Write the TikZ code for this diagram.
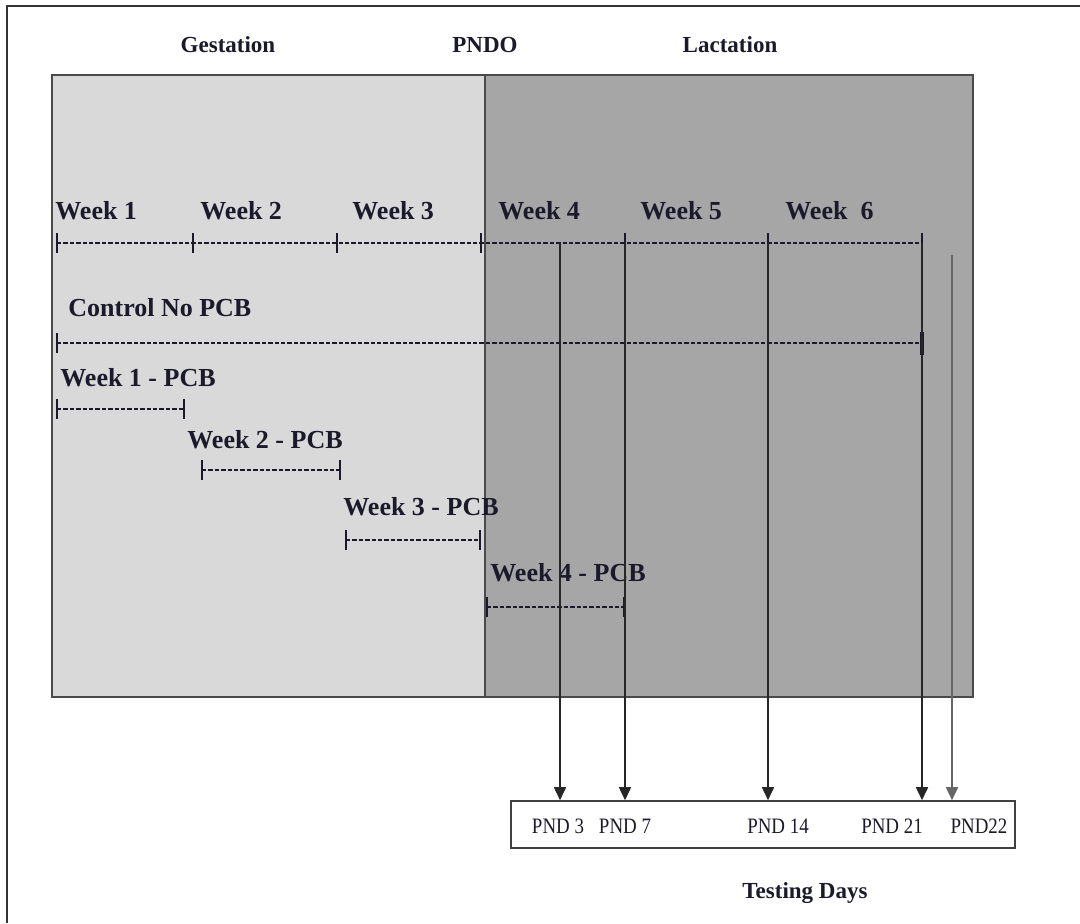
\documentclass[tikz,border=0pt]{standalone}
\usepackage{fontspec}
\setmainfont{Liberation Serif}
\newfontfamily\condserif[FakeStretch=0.86]{Liberation Serif}
\usetikzlibrary{arrows.meta}
\definecolor{lightg}{HTML}{D9D9D9}
\definecolor{darkg}{HTML}{A6A6A6}
\definecolor{edgeg}{HTML}{4A4A4A}
\definecolor{inkc}{HTML}{1A1A2A}
\begin{document}
\begin{tikzpicture}[x=0.5pt,y=-0.5pt,
  lbl/.style={font=\bfseries\fontsize{13}{15}\selectfont, anchor=west, inner sep=0pt, text=inkc},
  hdr/.style={font=\bfseries\fontsize{11.5}{13}\selectfont, inner sep=0pt, text=inkc},
  pnd/.style={font=\condserif\fontsize{11}{12}\selectfont, inner sep=0pt, text=inkc},
  dline/.style={line width=0.9pt, dash pattern=on 2.2pt off 1pt, draw=inkc},
  tickmark/.style={line width=1.1pt, draw=inkc},
  arr/.style={-{Triangle[length=6.5pt,width=6pt]}, line width=0.8pt, draw=black!85}
]
\useasboundingbox (0,0) rectangle (1080,923);
% outer frame
\draw[line width=1.4pt, black!80] (7,923) -- (7,6) -- (1080,6);
% phase regions
\draw[edgeg, line width=0.7pt, fill=lightg] (52,75) rectangle (485,697);
\draw[edgeg, line width=0.7pt, fill=darkg] (485,75) rectangle (973,697);
% headers
\node[hdr] (gest) at (228,45) {Gestation};
\node[hdr] (pndo) at (485,45) {PNDO};
\node[hdr] (lact) at (730,45) {Lactation};
% week labels
\node[lbl] (w1) at (55,211) {Week 1};
\node[lbl] (w2) at (200,211) {Week 2};
\node[lbl] (w3) at (352,211) {Week 3};
\node[lbl] (w4) at (498,211) {Week 4};
\node[lbl] (w5) at (640,211) {Week 5};
\node[lbl] (w6) at (785,211) {Week\ \ 6};
% timeline ticks
\foreach \n/\x in {a/57,b/193,c/337,d/481,e/625,f/768,g/922}{
  \coordinate (t\n) at (\x,243);
  \draw[tickmark] (\x,233) -- (\x,253);
}
\draw[dline] (ta) -- (tg);
% control
\node[lbl] (ctl) at (68,308) {Control No PCB};
\coordinate (c1) at (57,343);
\coordinate (c2) at (922,343);
\draw[dline] (c1) -- (c2);
\draw[tickmark] (57,333) -- (57,353);
\draw[tickmark, line width=1.6pt] (922,332) -- (922,355);
% exposure windows
\node[lbl] (p1) at (60,378) {Week 1 - PCB};
\node[lbl] (p2) at (187,440) {Week 2 - PCB};
\node[lbl] (p3) at (343,507) {Week 3 - PCB};
\node[lbl] (p4) at (490,573) {Week 4 - PCB};
\foreach \n/\xa/\xb/\y in {1/57/184/409, 2/202/340/470, 3/346/480/540, 4/487/624/607}{
  \coordinate (e\n a) at (\xa,\y);
  \coordinate (e\n b) at (\xb,\y);
  \draw[dline] (e\n a) -- (e\n b);
  \draw[tickmark] (\xa,\y-10) -- (\xa,\y+10);
  \draw[tickmark] (\xb,\y-10) -- (\xb,\y+10);
}
% testing box
\node[draw=black!75, line width=0.8pt, minimum width=252pt, minimum height=23.5pt, inner sep=0pt] (box) at (763,824.5) {};
\node[pnd] (d3) at (558,826) {PND 3};
\node[pnd] (d7) at (625,826) {PND 7};
\node[pnd] (d14) at (778,826) {PND 14};
\node[pnd] (d21) at (892,826) {PND 21};
\node[pnd] (d22) at (979,826) {PND22};
\node[font=\bfseries\fontsize{11.5}{13}\selectfont, text=inkc, inner sep=0pt] (tdays) at (805,893) {Testing Days};
% arrows
\coordinate (s22) at (952,255);
\draw[arr] (560,243) coordinate (s3) -- (s3 |- box.north);
\draw[arr] (te) -- (te |- box.north);
\draw[arr] (tf) -- (tf |- box.north);
\draw[arr] (tg) -- (tg |- box.north);
\draw[arr, draw=black!60] (s22) -- (s22 |- box.north);
\end{tikzpicture}
\end{document}
